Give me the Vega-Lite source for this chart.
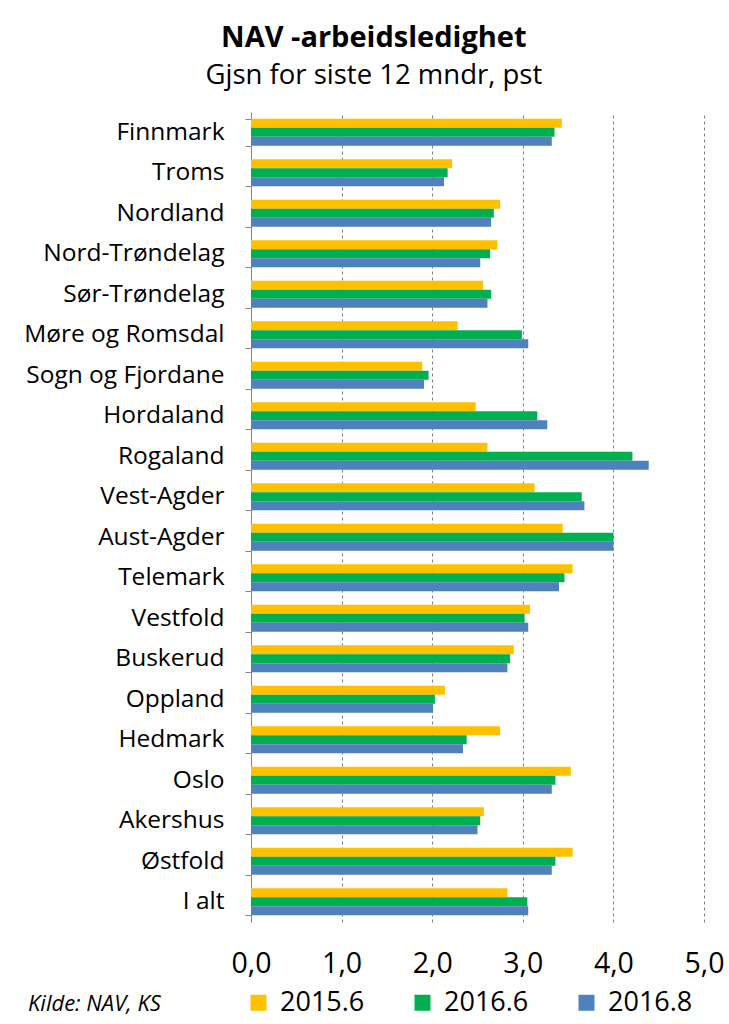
{
  "$schema": "https://vega.github.io/schema/vega-lite/v6.json",
  "width": 453,
  "height": 810,
  "autosize": {"type": "none"},
  "padding": {"left": 251, "top": 112, "right": 25, "bottom": 102},
  "background": "white",
  "title": {
    "text": "NAV -arbeidsledighet",
    "subtitle": "Gjsn for siste 12 mndr, pst",
    "anchor": "middle",
    "frame": "bounds",
    "font": "Open Sans",
    "fontSize": 29,
    "fontWeight": "bold",
    "color": "#000000",
    "subtitleFont": "Open Sans",
    "subtitleFontSize": 27.5,
    "subtitleColor": "#000000",
    "subtitlePadding": 9,
    "offset": 10
  },
  "data": {
    "values": [
      {"region": "Finnmark", "series": "2015.6", "value": 3.43},
      {"region": "Finnmark", "series": "2016.6", "value": 3.35},
      {"region": "Finnmark", "series": "2016.8", "value": 3.32},
      {"region": "Troms", "series": "2015.6", "value": 2.22},
      {"region": "Troms", "series": "2016.6", "value": 2.17},
      {"region": "Troms", "series": "2016.8", "value": 2.13},
      {"region": "Nordland", "series": "2015.6", "value": 2.75},
      {"region": "Nordland", "series": "2016.6", "value": 2.68},
      {"region": "Nordland", "series": "2016.8", "value": 2.65},
      {"region": "Nord-Trøndelag", "series": "2015.6", "value": 2.72},
      {"region": "Nord-Trøndelag", "series": "2016.6", "value": 2.64},
      {"region": "Nord-Trøndelag", "series": "2016.8", "value": 2.53},
      {"region": "Sør-Trøndelag", "series": "2015.6", "value": 2.56},
      {"region": "Sør-Trøndelag", "series": "2016.6", "value": 2.65},
      {"region": "Sør-Trøndelag", "series": "2016.8", "value": 2.61},
      {"region": "Møre og Romsdal", "series": "2015.6", "value": 2.28},
      {"region": "Møre og Romsdal", "series": "2016.6", "value": 2.99},
      {"region": "Møre og Romsdal", "series": "2016.8", "value": 3.06},
      {"region": "Sogn og Fjordane", "series": "2015.6", "value": 1.89},
      {"region": "Sogn og Fjordane", "series": "2016.6", "value": 1.96},
      {"region": "Sogn og Fjordane", "series": "2016.8", "value": 1.91},
      {"region": "Hordaland", "series": "2015.6", "value": 2.48},
      {"region": "Hordaland", "series": "2016.6", "value": 3.16},
      {"region": "Hordaland", "series": "2016.8", "value": 3.27},
      {"region": "Rogaland", "series": "2015.6", "value": 2.61},
      {"region": "Rogaland", "series": "2016.6", "value": 4.21},
      {"region": "Rogaland", "series": "2016.8", "value": 4.39},
      {"region": "Vest-Agder", "series": "2015.6", "value": 3.13},
      {"region": "Vest-Agder", "series": "2016.6", "value": 3.65},
      {"region": "Vest-Agder", "series": "2016.8", "value": 3.68},
      {"region": "Aust-Agder", "series": "2015.6", "value": 3.44},
      {"region": "Aust-Agder", "series": "2016.6", "value": 4.0},
      {"region": "Aust-Agder", "series": "2016.8", "value": 4.0},
      {"region": "Telemark", "series": "2015.6", "value": 3.55},
      {"region": "Telemark", "series": "2016.6", "value": 3.46},
      {"region": "Telemark", "series": "2016.8", "value": 3.4},
      {"region": "Vestfold", "series": "2015.6", "value": 3.08},
      {"region": "Vestfold", "series": "2016.6", "value": 3.02},
      {"region": "Vestfold", "series": "2016.8", "value": 3.06},
      {"region": "Buskerud", "series": "2015.6", "value": 2.9},
      {"region": "Buskerud", "series": "2016.6", "value": 2.86},
      {"region": "Buskerud", "series": "2016.8", "value": 2.83},
      {"region": "Oppland", "series": "2015.6", "value": 2.14},
      {"region": "Oppland", "series": "2016.6", "value": 2.03},
      {"region": "Oppland", "series": "2016.8", "value": 2.01},
      {"region": "Hedmark", "series": "2015.6", "value": 2.75},
      {"region": "Hedmark", "series": "2016.6", "value": 2.38},
      {"region": "Hedmark", "series": "2016.8", "value": 2.34},
      {"region": "Oslo", "series": "2015.6", "value": 3.53},
      {"region": "Oslo", "series": "2016.6", "value": 3.36},
      {"region": "Oslo", "series": "2016.8", "value": 3.32},
      {"region": "Akershus", "series": "2015.6", "value": 2.57},
      {"region": "Akershus", "series": "2016.6", "value": 2.53},
      {"region": "Akershus", "series": "2016.8", "value": 2.5},
      {"region": "Østfold", "series": "2015.6", "value": 3.55},
      {"region": "Østfold", "series": "2016.6", "value": 3.36},
      {"region": "Østfold", "series": "2016.8", "value": 3.32},
      {"region": "I alt", "series": "2015.6", "value": 2.83},
      {"region": "I alt", "series": "2016.6", "value": 3.05},
      {"region": "I alt", "series": "2016.8", "value": 3.06}
    ]
  },
  "mark": {"type": "bar"},
  "encoding": {
    "y": {
      "field": "region",
      "type": "nominal",
      "sort": null,
      "scale": {"paddingInner": 0.33, "paddingOuter": 0.165},
      "axis": {
        "title": null,
        "labelFont": "Open Sans",
        "labelFontSize": 24.5,
        "labelColor": "#000000",
        "labelPadding": 21,
        "labelLimit": 300,
        "tickSize": 6,
        "tickBand": "extent",
        "domainColor": "#868686",
        "tickColor": "#868686"
      }
    },
    "yOffset": {
      "field": "series",
      "type": "nominal",
      "sort": ["2015.6", "2016.6", "2016.8"]
    },
    "x": {
      "field": "value",
      "type": "quantitative",
      "scale": {"domain": [0, 5], "nice": false},
      "axis": {
        "title": null,
        "values": [0, 1, 2, 3, 4, 5],
        "labelExpr": "replace(format(datum.value, '.1f'), '.', ',')",
        "labelFont": "Open Sans",
        "labelFontSize": 28.5,
        "labelColor": "#000000",
        "labelPadding": 27,
        "labelFlush": false,
        "ticks": false,
        "domain": false,
        "grid": true,
        "gridDash": [3, 3],
        "gridColor": "#808080"
      }
    },
    "color": {
      "field": "series",
      "type": "nominal",
      "scale": {
        "domain": ["2015.6", "2016.6", "2016.8"],
        "range": ["#FFC000", "#00B050", "#4F81BD"]
      },
      "legend": {
        "orient": "none",
        "legendX": -223,
        "legendY": 877,
        "direction": "horizontal",
        "columns": 3,
        "padding": 0,
        "title": "Kilde: NAV, KS",
        "titleOrient": "left",
        "titleAnchor": "end",
        "titleBaseline": "bottom",
        "titleFont": "Open Sans",
        "titleFontSize": 22,
        "titleFontStyle": "italic",
        "titleFontWeight": "normal",
        "titleColor": "#000000",
        "titlePadding": 84,
        "symbolType": "square",
        "symbolSize": 256,
        "symbolStrokeWidth": 0,
        "labelFont": "Open Sans",
        "labelFontSize": 27,
        "labelColor": "#000000",
        "labelOffset": 8,
        "columnPadding": 44,
        "labelLimit": 200
      }
    }
  },
  "config": {"view": {"stroke": null}}
}
